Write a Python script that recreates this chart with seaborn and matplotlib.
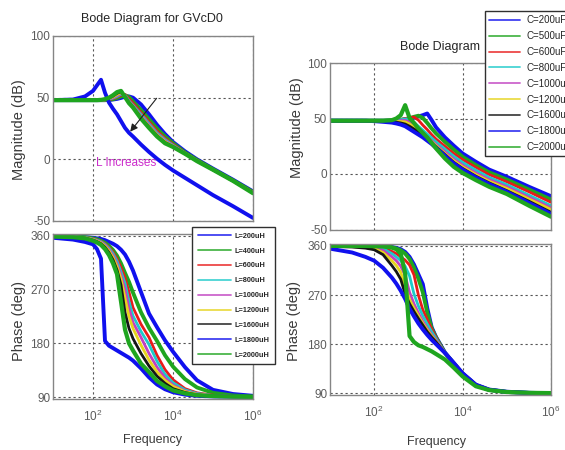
import numpy as np
import pandas as pd
import matplotlib
matplotlib.use("Agg")
import matplotlib.pyplot as plt
import seaborn as sns
from matplotlib.lines import Line2D
from matplotlib.ticker import NullLocator

# ---------------- data ----------------
# frequency sample points, as powers of ten (Hz)
left_log_freq = [1.0, 1.5, 1.8, 2.0, 2.1, 2.2, 2.3, 2.4, 2.5, 2.6, 2.7, 2.8,
                 2.9, 3.0, 3.2, 3.4, 3.6, 3.8, 4.0, 4.3, 4.6, 5.0, 5.5, 6.0]
right_log_freq = [1.0, 1.5, 1.8, 2.0, 2.2, 2.4, 2.5, 2.6, 2.7, 2.8, 2.9, 3.0,
                  3.1, 3.2, 3.3, 3.4, 3.6, 3.8, 4.0, 4.3, 4.6, 5.0, 5.5, 6.0]

inductor_labels = ["L=200uH", "L=400uH", "L=600uH", "L=800uH", "L=1000uH",
                   "L=1200uH", "L=1600uH", "L=1800uH", "L=2000uH"]
capacitor_labels = ["C=200uF", "C=500uF", "C=600uF", "C=800uF", "C=1000uF",
                    "C=1200uF", "C=1600uF", "C=1800uF", "C=2000uF"]

# GVcD0 magnitude (dB) for each inductance
mag_L200 = [48, 48, 48, 48, 48, 48, 48, 48.2, 48.5, 49, 49.8, 50.8, 51, 50, 44.5, 36.5, 28, 20.5, 14, 6.5, 0, -7.5, -16.5, -26]
mag_L400 = [48, 48, 48, 48, 48, 48, 48, 48.3, 48.8, 49.8, 51, 52, 50.5, 47, 40, 32.5, 25, 18.5, 13, 5.5, -0.5, -8, -17, -26.5]
mag_L600 = [48, 48, 48, 48, 48, 48, 48.1, 48.5, 49.2, 50.5, 52, 52.5, 49, 45.5, 38, 30.5, 23, 17, 12.2, 5.2, -0.8, -8.2, -17.2, -26.8]
mag_L800 = [48, 48, 48, 48, 48, 48, 48.2, 48.7, 49.6, 51, 52.8, 52, 47.5, 44, 36.5, 29, 21.5, 16, 11.5, 5, -1, -8.3, -17.3, -27]
mag_L1000 = [48, 48, 48, 48, 48, 48, 48.3, 49, 50, 51.8, 53.5, 51, 46.8, 43.3, 35.2, 27.8, 20.5, 15, 11, 4.8, -1.2, -8.4, -17.4, -27.1]
mag_L1200 = [48, 48, 48, 48, 48, 48.1, 48.4, 49.3, 50.6, 52.5, 54.2, 50.8, 46.3, 42.8, 34.2, 26.8, 19.8, 14.3, 10.6, 4.7, -1.3, -8.4, -17.4, -27.2]
mag_L1600 = [48, 48, 48, 48, 48, 48.1, 48.6, 49.6, 51.3, 53.5, 55, 50.6, 45.8, 42.3, 33.5, 26, 19, 13.6, 10.3, 4.6, -1.4, -8.5, -17.5, -27.3]
mag_L1800 = [48, 48.5, 51, 55.5, 60, 64.5, 54, 46, 41, 36.5, 31, 25.5, 21.5, 18.5, 12, 6, 0.5, -4.5, -9, -15, -21, -29, -38, -47.5]
mag_L2000 = [48, 48, 48, 48, 48, 48.2, 48.8, 50, 52, 54.5, 55.5, 50.5, 45.5, 42, 33, 25.5, 18.5, 13, 10, 4.5, -1.5, -8.5, -17.5, -27.5]

# GVcD0 phase (deg) for each inductance
ph_L200 = [359.5, 359, 358, 357, 356, 355, 353, 350, 347, 343, 337, 329, 317, 302, 266, 230, 207, 185, 166, 140, 118, 102, 95, 92]
ph_L400 = [359.3, 358.7, 358, 356, 354.5, 352, 348.5, 343.5, 336.5, 327, 314, 298, 283, 265, 232, 206, 184, 160, 141, 120, 106, 97, 92.5, 91]
ph_L600 = [359, 358.5, 357.5, 355.5, 353.5, 351, 347, 341, 333, 322, 307, 290, 266, 240, 212, 190, 160, 136, 119, 104, 97, 93, 91.2, 90.4]
ph_L800 = [359, 358.5, 357.5, 355, 353, 350.5, 346, 339.5, 330.5, 318, 300, 281, 250, 226, 200, 178, 150, 128, 114, 102, 96, 92.5, 91, 90.3]
ph_L1000 = [359, 358.3, 357, 354.5, 352, 349.5, 344.5, 337, 327, 313, 294, 270, 238, 215, 190, 163, 140, 122, 110, 100, 95, 92.2, 90.8, 90.3]
ph_L1200 = [359, 358, 357, 354, 351.5, 348.5, 343, 335, 324, 309, 288, 256, 225, 205, 177, 152, 132, 118, 108, 99, 94.5, 92, 90.7, 90.2]
ph_L1600 = [359, 358, 356.5, 353, 350.5, 347, 341, 332, 320, 303, 278, 232, 205, 188, 163, 142, 125, 113, 104, 97.5, 93.5, 91.7, 90.6, 90.2]
ph_L1800 = [357, 354, 350, 346, 338, 322, 184, 176, 172, 168, 164, 160, 156, 151, 138, 123, 111, 103, 98, 94, 92, 91, 90.5, 90.3]
ph_L2000 = [359, 358, 356, 352, 349, 345, 338, 328, 314, 296, 250, 203, 180, 168, 146, 132, 117, 108, 101, 96, 93, 91.5, 90.5, 90.2]

# magnitude (dB) for each capacitance
mag_C200 = [48, 48, 48, 48, 48, 48.2, 48.4, 48.7, 49.2, 49.8, 50.6, 51.8, 53, 54.5, 48.5, 42, 33, 25.5, 18.5, 11, 4, -2.5, -11.5, -20]
mag_C500 = [48, 48, 48, 48, 48, 48.2, 48.4, 48.8, 49.4, 50.3, 51.5, 52.5, 50.5, 46, 41, 36.5, 29, 22, 15.5, 8, 1.5, -5, -14, -23]
mag_C600 = [48, 48, 48, 48, 48, 48.2, 48.5, 49, 49.8, 50.8, 51.3, 48.5, 44, 40, 35.5, 31.5, 25, 18.5, 13, 6, -0.5, -7, -16, -25.5]
mag_C800 = [48, 48, 48, 48, 48, 48.1, 48.4, 48.9, 49.5, 49.8, 46.5, 43, 39.5, 36, 32.5, 29, 22.5, 16, 10.5, 3.5, -3, -9.5, -19, -28.5]
mag_C1000 = [48, 48, 48, 48, 47.9, 47.8, 47.8, 48, 48.3, 46.5, 43.5, 40.5, 37, 33.5, 30, 26.5, 20, 13.5, 8, 1, -5, -11.5, -21, -30.5]
mag_C1200 = [48, 48, 48, 48, 47.8, 47.5, 47.3, 47.3, 47, 45, 42.5, 39.5, 36, 32.5, 29, 25.5, 18.5, 12, 6.5, -0.5, -6.5, -13, -22.5, -32]
mag_C1600 = [48, 48, 48, 47.9, 47.6, 47, 46.6, 46, 45, 43, 40.5, 38, 35, 31.5, 28, 24.5, 17.5, 10.5, 5, -2, -8, -15, -24.5, -34.5]
mag_C1800 = [48, 48, 48, 47.6, 47, 46.3, 45.5, 44.5, 43, 40.5, 38, 35.5, 33, 30, 27, 23.5, 16.5, 9.5, 4, -3, -9, -16, -26, -36]
mag_C2000 = [48, 48, 48, 48, 48, 48.5, 50, 53, 62, 50.5, 46, 41, 37, 33, 28, 23, 14, 6.5, 1, -5.5, -11.5, -18, -28.5, -38.5]

# phase (deg) for each capacitance
ph_C200 = [360, 360, 360, 359.8, 359.5, 358, 356.5, 354, 349, 340, 326, 308, 290, 246, 211, 193, 165, 145, 126, 105, 96.5, 92.5, 90.8, 90.3]
ph_C500 = [360, 360, 360, 359.7, 359.3, 357.5, 355.5, 352, 346, 336, 320, 300, 275, 238, 209, 192, 164, 145, 126, 105, 96.5, 92.5, 90.8, 90.3]
ph_C600 = [360, 359.8, 359.5, 359, 357, 350, 346, 340, 334, 325, 307, 270, 243, 225, 208, 192, 164, 146, 127, 106, 97, 93, 91, 90.3]
ph_C800 = [360, 359.7, 359, 358, 355, 346, 340, 333, 323, 305, 272, 250, 232, 217, 203, 190, 164, 146, 127, 106, 97, 93, 91, 90.3]
ph_C1000 = [359.8, 359.3, 358, 356.5, 352, 340, 333, 323, 306, 275, 254, 237, 222, 209, 197, 187, 164, 146, 127, 106, 97, 93, 91, 90.3]
ph_C1200 = [359.5, 358.8, 357, 355, 348, 333, 324, 312, 285, 262, 246, 232, 218, 206, 195, 185, 164, 146, 127, 106, 97, 93, 91, 90.3]
ph_C1600 = [359, 358, 356, 353, 344, 324, 313, 299, 272, 254, 240, 227, 215, 203, 193, 184, 164, 146, 127, 106, 97, 93, 91, 90.3]
ph_C1800 = [355, 348, 340, 333, 320, 302, 291, 278, 263, 245, 231, 218, 207, 197, 188, 180, 164, 146, 127, 106, 97, 93, 91, 90.3]
ph_C2000 = [360, 360, 360, 359.5, 359, 357, 354, 346, 310, 195, 184, 178, 175, 171, 167, 162, 152, 137, 121, 103, 96, 92.5, 91, 90.5]

# ---------------- style ----------------
sns.set_style("white")
plt.rcParams["font.family"] = ["Liberation Sans", "DejaVu Sans"]
plt.rcParams["mathtext.fontset"] = "custom"
plt.rcParams["mathtext.rm"] = "Liberation Sans"
plt.rcParams["mathtext.it"] = "Liberation Sans:italic"

BLUE, GREEN, RED = "#1010ee", "#1fa51f", "#e81a1a"
CYAN, MAGENTA, YELLOW, BLACK = "#1ccaca", "#c040c0", "#e6d41c", "#151515"
series_colors = [BLUE, GREEN, RED, CYAN, MAGENTA, YELLOW, BLACK, BLUE, GREEN]
series_widths = [2.8, 2.8, 2.0, 2.0, 2.0, 2.0, 2.0, 2.8, 3.0]

W, H = 565, 450
fig = plt.figure(figsize=(W / 100, H / 100), dpi=100)


def px_axes(x0, y0, x1, y1):
    return fig.add_axes([x0 / W, 1 - y1 / H, (x1 - x0) / W, (y1 - y0) / H])


def style_axes(ax, yticks, ylim, show_x):
    ax.set_xscale("log")
    ax.set_xlim(1e1, 1e6)
    ax.set_ylim(*ylim)
    ax.set_xticks([1e2, 1e4, 1e6])
    ax.xaxis.set_minor_locator(NullLocator())
    ax.set_yticks(yticks)
    ax.set_yticklabels([str(t) for t in yticks])
    ax.grid(True, which="major", linestyle=(0, (2, 2.5)), color="#555555", lw=0.8)
    for s in ax.spines.values():
        s.set_color("#858585")
        s.set_linewidth(1.0)
    ax.tick_params(direction="in", length=3, color="#858585", labelcolor="#5c5c5c",
                   labelsize=8.5, pad=2)
    ax.tick_params(axis="x", pad=7)
    if show_x:
        ax.set_xticklabels([r"$\mathregular{10^{2}}$", r"$\mathregular{10^{4}}$",
                            r"$\mathregular{10^{6}}$"])
    else:
        ax.set_xticklabels([])
    ax.set_xlabel("")
    ax.set_ylabel("")


def draw_family(ax, log_freq, series):
    freq = 10.0 ** np.asarray(log_freq)
    for vals, col, lw in zip(series, series_colors, series_widths):
        df = pd.DataFrame({"freq": freq, "value": vals})
        sns.lineplot(data=df, x="freq", y="value", ax=ax, color=col, linewidth=lw,
                     estimator=None, sort=False, legend=False)


ax_lm = px_axes(53, 36, 253, 221)
ax_lp = px_axes(53, 234.2, 253, 398.8)
ax_rm = px_axes(330, 63, 551, 229.5)
ax_rp = px_axes(330, 244.3, 551, 395)

draw_family(ax_lm, left_log_freq, [mag_L200, mag_L400, mag_L600, mag_L800, mag_L1000,
                                   mag_L1200, mag_L1600, mag_L1800, mag_L2000])
draw_family(ax_lp, left_log_freq, [ph_L200, ph_L400, ph_L600, ph_L800, ph_L1000,
                                   ph_L1200, ph_L1600, ph_L1800, ph_L2000])
draw_family(ax_rm, right_log_freq, [mag_C200, mag_C500, mag_C600, mag_C800, mag_C1000,
                                    mag_C1200, mag_C1600, mag_C1800, mag_C2000])
draw_family(ax_rp, right_log_freq, [ph_C200, ph_C500, ph_C600, ph_C800, ph_C1000,
                                    ph_C1200, ph_C1600, ph_C1800, ph_C2000])

for ax in (ax_lm, ax_rm):
    style_axes(ax, [-50, 0, 50, 100], (-50, 100), False)
for ax in (ax_lp, ax_rp):
    style_axes(ax, [90, 180, 270, 360], (87, 363), True)

# annotation on the inductor-sweep magnitude plot
ax_lm.annotate("", xy=(10 ** 2.93, 22.4), xytext=(10 ** 3.59, 49.5),
               arrowprops=dict(arrowstyle="-|>", color="#202020", lw=0.8,
                               mutation_scale=11, shrinkA=0, shrinkB=0))
ax_lm.text(10 ** 2.84, -3, "L Increases", color="#cc2ccc", fontsize=8.5,
           ha="center", va="center")

# titles and axis labels
text_col = "#262626"
fig.text(152 / W, 1 - 19 / H, "Bode Diagram for GVcD0", ha="center", va="center",
         fontsize=9, color=text_col)
fig.text(440 / W, 1 - 47 / H, "Bode Diagram", ha="center", va="center",
         fontsize=9, color=text_col)
for x, y, s in [(19, 130, "Magnitude (dB)"), (19, 321, "Phase (deg)"),
                (297, 128, "Magnitude (dB)"), (294, 321, "Phase (deg)")]:
    fig.text(x / W, 1 - y / H, s, rotation=90, ha="center", va="center",
             fontsize=10.5, color="#3a3a3a")
fig.text(153 / W, 1 - 440 / H, "Frequency", ha="center", va="center",
         fontsize=9, color="#3a3a3a")
fig.text(437 / W, 1 - 442 / H, "Frequency", ha="center", va="center",
         fontsize=9, color="#3a3a3a")

# legends
def handles():
    return [Line2D([], [], color=c, lw=1.3, alpha=0.8) for c in series_colors]

leg_l = fig.legend(handles(), inductor_labels, loc="upper left",
                   bbox_to_anchor=(192 / W, 1 - 227 / H), bbox_transform=fig.transFigure,
                   prop={"size": 5.3, "weight": "bold"}, handlelength=4.6,
                   handletextpad=0.45, labelspacing=1.05, borderpad=0.75,
                   borderaxespad=0, frameon=True, fancybox=False, framealpha=1,
                   edgecolor="#303030")
leg_l.get_frame().set_linewidth(1.0)
leg_r = fig.legend(handles(), capacitor_labels, loc="upper left",
                   bbox_to_anchor=(485 / W, 1 - 11 / H), bbox_transform=fig.transFigure,
                   prop={"size": 7}, handlelength=3.2, handletextpad=0.6,
                   labelspacing=0.6, borderpad=0.45, borderaxespad=0, frameon=True,
                   fancybox=False, framealpha=1, edgecolor="#303030")
leg_r.get_frame().set_linewidth(1.0)

fig.savefig("out.png", dpi=100)
